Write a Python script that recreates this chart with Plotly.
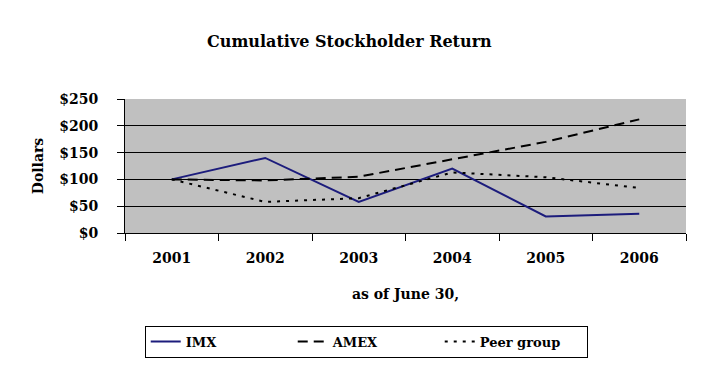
import plotly.graph_objects as go

years = ["2001", "2002", "2003", "2004", "2005", "2006"]
imx = [100, 140, 58, 120, 31, 36]
amex = [100, 98, 105, 137, 170, 212]
peer = [100, 58, 65, 113, 104, 84]

y_ticks = [0, 50, 100, 150, 200, 250]
y_labels = ["$0", "$50", "$100", "$150", "$200", "$250"]

FONT = "DejaVu Serif"

fig = go.Figure()
fig.add_trace(go.Scatter(x=years, y=imx, name="<b>IMX</b>", mode="lines",
                         line=dict(color="#1c1c7c", width=2)))
fig.add_trace(go.Scatter(x=years, y=amex, name="<b>AMEX</b>", mode="lines",
                         line=dict(color="black", width=2, dash="10px,6px")))
fig.add_trace(go.Scatter(x=years, y=peer, name="<b>Peer group</b>", mode="lines",
                         line=dict(color="black", width=2, dash="3px,6px")))

fig.update_layout(
    width=701, height=371,
    margin=dict(l=117, r=23, t=91, b=146),
    paper_bgcolor="white",
    plot_bgcolor="#c0c0c0",
    font=dict(family=FONT, color="black", size=14),
    title=dict(text="<b>Cumulative Stockholder Return</b>", x=0.487, xanchor="center",
               xref="container", y=1 - 33 / 371, yanchor="middle",
               font=dict(family=FONT, size=16, color="black")),
    showlegend=True,
    legend=dict(orientation="h", x=0.43, xanchor="center", y=-0.81, yanchor="middle",
                bordercolor="black", borderwidth=1, bgcolor="white",
                font=dict(family=FONT, size=13, color="black"),
                entrywidth=102, entrywidthmode="pixels", traceorder="normal"),
)
fig.update_xaxes(
    type="category", tickson="boundaries", ticks="outside", ticklen=7,
    tickcolor="black", showline=True, linecolor="black", linewidth=1,
    showgrid=False, tickfont=dict(family=FONT, size=14, color="black"),
    tickprefix="<b>", ticksuffix="</b>", ticklabelstandoff=12,
    title=dict(text="<b>as of June 30,</b>", standoff=24,
               font=dict(family=FONT, size=14, color="black")),
    range=[-0.5, 5.5], automargin=False,
)
fig.update_yaxes(
    range=[0, 250], tickvals=y_ticks, ticktext=["<b>" + t + "</b>" for t in y_labels],
    ticks="outside", ticklen=7, tickcolor="black", ticklabelstandoff=16,
    showline=True, linecolor="black", linewidth=1,
    showgrid=True, gridcolor="black", gridwidth=1, zeroline=False,
    tickfont=dict(family=FONT, size=14, color="black"),
    title=dict(text="<b>Dollars</b>", standoff=12,
               font=dict(family=FONT, size=14, color="black")),
    automargin=False,
)

fig.write_html("out.html")
